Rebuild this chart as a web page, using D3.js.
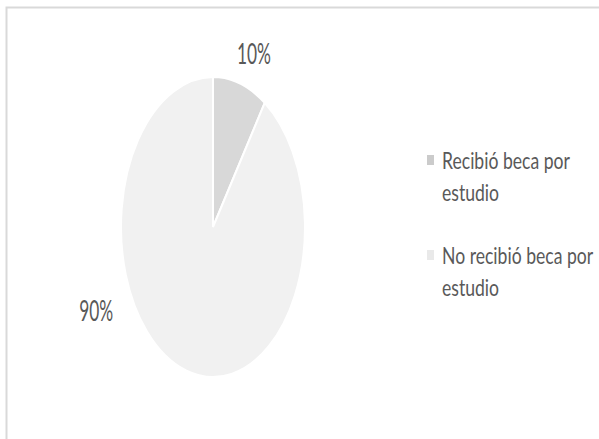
<!DOCTYPE html>
<html><head><meta charset="utf-8">
<script src="https://cdn.jsdelivr.net/npm/d3@7/dist/d3.min.js"></script>
<style>body{margin:0;background:#fff}svg{display:block}</style>
</head><body>
<svg id="c" width="599" height="439"></svg>
<script>
const categories = ["Recibió beca por estudio", "No recibió beca por estudio"];
const legendLines = [["Recibió beca por", "estudio"], ["No recibió beca por", "estudio"]];
const values = [9.5, 90.5];
const percentLabels = ["10%", "90%"];
const colors = ["#d8d8d8", "#f1f1f1"];
const legendColors = ["#cbcbcb", "#e9e9e9"];

const svg = d3.select("#c");
svg.append("path").attr("d","M6.5,439 V7.5 H599").attr("fill","none").attr("stroke","#d9d9d9").attr("stroke-width",2);

const cx = 213, cy = 227, R = 150, sx = 92/150;
const pie = d3.pie().sort(null).value(d=>d)(values);
const arc = d3.arc().innerRadius(0).outerRadius(R);
const g = svg.append("g").attr("transform",`translate(${cx},${cy}) scale(${sx},1)`);
g.selectAll("path").data(pie).join("path")
  .attr("d", arc).attr("fill",(d,i)=>colors[i])
  .attr("stroke","#fff").attr("stroke-width",2).attr("vector-effect","non-scaling-stroke");

const font = "Lato, 'Open Sans', sans-serif";
// percent labels
const labelPos = [{ang:0.367, r:186},{ang:4.30, r:208}];
const lab = svg.append("g");
const tmp = lab.append("text").attr("font-family",font).attr("font-size",29).text("90%");
const kP = 34 / tmp.node().getComputedTextLength();
tmp.remove();
pie.forEach((d,i)=>{
  const p = labelPos[i];
  const x = cx + Math.sin(p.ang)*p.r*sx, y = cy - Math.cos(p.ang)*p.r;
  lab.append("text").attr("transform",`translate(${x},${y+10.5}) scale(${kP},1)`)
    .attr("text-anchor","middle").attr("font-family",font).attr("font-size",29)
    .attr("fill","#595959").text(percentLabels[i]);
});

// legend
const leg = svg.append("g");
const tmp2 = leg.append("text").attr("font-family",font).attr("font-size",24).text(legendLines[0][0]);
const kL = 128 / tmp2.node().getComputedTextLength();
tmp2.remove();
categories.forEach((c,i)=>{
  const y0 = 169 + i*95;
  leg.append("rect").attr("x",427).attr("y",y0-14).attr("width",7).attr("height",10).attr("fill",legendColors[i]);
  legendLines[i].forEach((t,j)=>{
    leg.append("text").attr("transform",`translate(442,${y0+j*32}) scale(${kL},1)`)
      .attr("font-family",font).attr("font-size",24).attr("fill","#595959").text(t);
  });
});
</script>
</body></html>
